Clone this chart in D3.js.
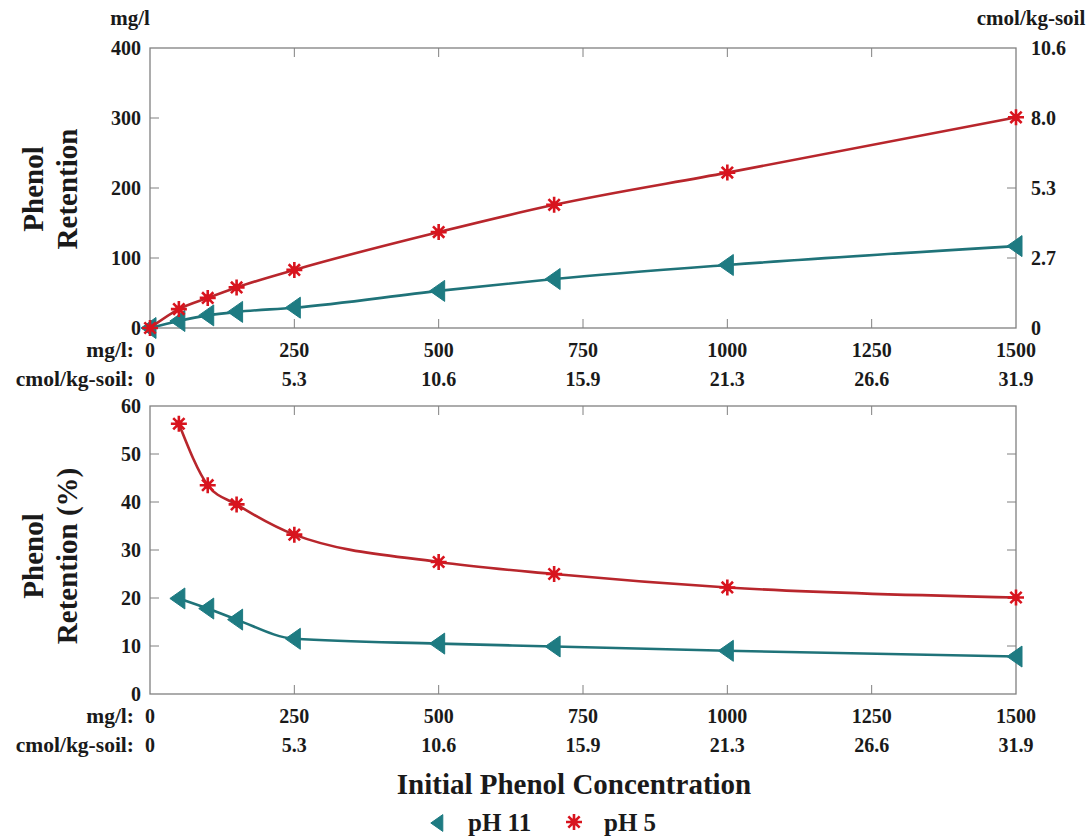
<!DOCTYPE html>
<html><head><meta charset="utf-8">
<script src="https://cdn.jsdelivr.net/npm/d3@7"></script>
<style>body{margin:0;background:#fff}svg{font-family:"Liberation Serif","Times New Roman",serif;font-weight:bold}</style>
</head><body><svg id="c" width="1090" height="838"></svg>
<script>
const concTop = [0,50,100,150,250,500,700,1000,1500];
const topPH5 = [0,27,43,58,83,137,176,222,301];
const topPH11 = [0,10,18,23,29,53,70,90,117];
const concBot = [50,100,150,250,500,700,1000,1500];
const botPH5 = [56.3,43.5,39.5,33.2,27.5,25,22.2,20.1];
const botPH11 = [19.9,17.8,15.5,11.5,10.5,9.9,9.0,7.8];
const xTicks = [0,250,500,750,1000,1250,1500];
const xTicksCmol = ["0","5.3","10.6","15.9","21.3","26.6","31.9"];
const yTopTicks = [0,100,200,300,400];
const yTopRightTicks = ["0","2.7","5.3","8.0","10.6"];
const yBotTicks = [0,10,20,30,40,50,60];

const RED="#d8141e", REDL="#b8262c", TEAL="#1e7b82", TEALL="#1f7379", AX="#808080", TXT="#1a1a1a";
const FS=20;
const svg=d3.select("#c");
const x=d3.scaleLinear().domain([0,1500]).range([150,1016]);
const yT=d3.scaleLinear().domain([0,400]).range([328,48]);
const yB=d3.scaleLinear().domain([0,60]).range([694,406]);

function box(y, ticks, rightLabels){
  const g=svg.append("g");
  const [y0,y1]=y.range();
  g.append("rect").attr("x",150).attr("y",y1).attr("width",866).attr("height",y0-y1)
   .attr("fill","none").attr("stroke",AX).attr("stroke-width",1.3);
  xTicks.forEach(t=>{
    if(t===0||t===1500) return;
    g.append("line").attr("x1",x(t)).attr("x2",x(t)).attr("y1",y0).attr("y2",y0-9).attr("stroke",AX);
    g.append("line").attr("x1",x(t)).attr("x2",x(t)).attr("y1",y1).attr("y2",y1+9).attr("stroke",AX);
  });
  ticks.forEach((t,i)=>{
    const yy=y(t);
    if(i>0&&i<ticks.length-1){
      g.append("line").attr("x1",150).attr("x2",159).attr("y1",yy).attr("y2",yy).attr("stroke",AX);
      g.append("line").attr("x1",1016).attr("x2",1007).attr("y1",yy).attr("y2",yy).attr("stroke",AX);
    }
    g.append("text").attr("x",141).attr("y",yy+7).attr("text-anchor","end").attr("font-size",FS).attr("fill",TXT).text(t);
    if(rightLabels) g.append("text").attr("x",1031).attr("y",yy+7).attr("font-size",FS).attr("fill",TXT).text(rightLabels[i]);
  });
  const ly=y0+29;
  g.append("text").attr("x",134).attr("y",ly).attr("text-anchor","end").attr("font-size",21.5).attr("fill",TXT).text("mg/l:");
  g.append("text").attr("x",134).attr("y",ly+29).attr("text-anchor","end").attr("font-size",21.5).attr("fill",TXT).text("cmol/kg-soil:");
  xTicks.forEach((t,i)=>{
    g.append("text").attr("x",x(t)).attr("y",ly).attr("text-anchor","middle").attr("font-size",FS).attr("fill",TXT).text(t);
    g.append("text").attr("x",x(t)).attr("y",ly+29).attr("text-anchor","middle").attr("font-size",FS).attr("fill",TXT).text(xTicksCmol[i]);
  });
}
box(yT,yTopTicks,yTopRightTicks);
box(yB,yBotTicks,null);

svg.append("text").attr("x",130).attr("y",25).attr("text-anchor","middle").attr("font-size",21).attr("fill",TXT).text("mg/l");
svg.append("text").attr("x",1031).attr("y",25).attr("text-anchor","middle").attr("font-size",21).attr("fill",TXT).text("cmol/kg-soil");

function ytitle(cy, l1, l2){
  svg.append("text").attr("transform",`translate(43,${cy}) rotate(-90)`).attr("text-anchor","middle").attr("font-size",29).attr("fill",TXT).text(l1);
  svg.append("text").attr("transform",`translate(77,${cy}) rotate(-90)`).attr("text-anchor","middle").attr("font-size",29).attr("fill",TXT).text(l2);
}
ytitle(189,"Phenol","Retention");
ytitle(556,"Phenol","Retention (%)");

function tri(g,cx,cy,c,s){
  s=s||1;
  g.append("path").attr("d",`M${cx-9*s},${cy} L${cx+6*s},${cy-10.5*s} L${cx+6*s},${cy+10.5*s} Z`).attr("fill",c).attr("stroke",c).attr("stroke-width",1).attr("stroke-linejoin","round");
}
function star(g,cx,cy,c,r){
  r=r||8;
  const d=[];
  for(let k=0;k<4;k++){const a=k*Math.PI/4;d.push(`M${cx-r*Math.cos(a)},${cy-r*Math.sin(a)} L${cx+r*Math.cos(a)},${cy+r*Math.sin(a)}`);}
  g.append("circle").attr("cx",cx).attr("cy",cy).attr("r",r*0.45).attr("fill",c);
  g.append("path").attr("d",d.join(" ")).attr("stroke",c).attr("stroke-width",2.6);
}
function series(xs, ys, y, lc, mc, marker){
  const pts=xs.map((v,i)=>[x(v),y(ys[i])]);
  const line=d3.line().curve(d3.curveMonotoneX);
  svg.append("path").attr("d",line(pts)).attr("fill","none").attr("stroke",lc).attr("stroke-width",2.6);
  const g=svg.append("g");
  pts.forEach(p=>marker(g,p[0],p[1],mc));
}
series(concTop,topPH11,yT,TEALL,TEAL,tri);
series(concTop,topPH5,yT,REDL,RED,star);
series(concBot,botPH5,yB,REDL,RED,star);
series(concBot,botPH11,yB,TEALL,TEAL,tri);

svg.append("text").attr("x",574).attr("y",794).attr("text-anchor","middle").attr("font-size",29).attr("fill",TXT).text("Initial Phenol Concentration");
const lg=svg.append("g");
tri(lg,438,823,TEAL,0.8);
lg.append("text").attr("x",468).attr("y",831).attr("font-size",25).attr("fill",TXT).text("pH 11");
star(lg,574,822,RED,8);
lg.append("text").attr("x",604).attr("y",831).attr("font-size",25).attr("fill",TXT).text("pH 5");
</script></body></html>
